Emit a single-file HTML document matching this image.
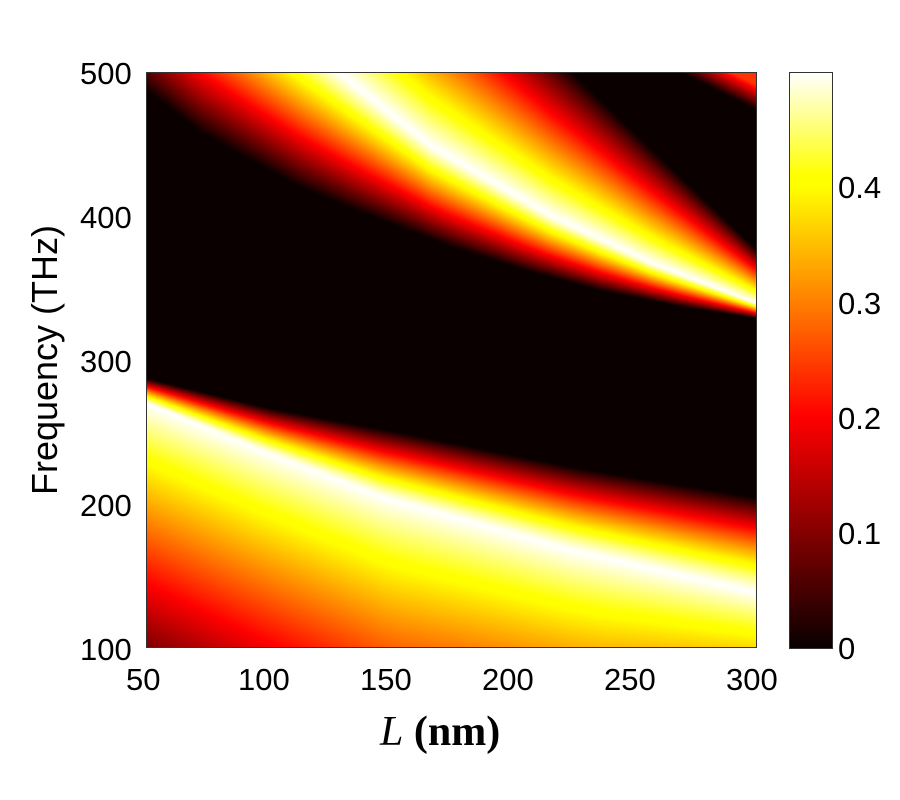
<!DOCTYPE html>
<html><head><meta charset="utf-8"><style>
html,body{margin:0;padding:0;background:#fff;width:900px;height:800px;overflow:hidden}
#w{position:relative;width:900px;height:800px;font-family:"Liberation Sans",Arial,sans-serif;color:#000}
canvas{position:absolute}
.t{position:absolute;font-size:31px;line-height:1}
</style></head><body><div id="w">
<canvas id="c" width="610" height="576" style="left:146px;top:72px"></canvas>
<div style="position:absolute;left:146px;top:72px;width:611px;height:576px;border:1px solid #333;box-sizing:border-box"></div>
<canvas id="cb" width="42" height="576" style="left:790px;top:72px"></canvas>
<div style="position:absolute;left:789px;top:72px;width:44px;height:577px;border:1px solid #333;box-sizing:border-box"></div>
<div class="t" style="left:80px;top:58px">500</div>
<div class="t" style="left:80px;top:202px">400</div>
<div class="t" style="left:80px;top:346px">300</div>
<div class="t" style="left:80px;top:490px">200</div>
<div class="t" style="left:80px;top:634px">100</div>
<div class="t" style="left:126px;top:664px">50</div>
<div class="t" style="left:238px;top:664px">100</div>
<div class="t" style="left:360px;top:664px">150</div>
<div class="t" style="left:482px;top:664px">200</div>
<div class="t" style="left:604px;top:664px">250</div>
<div class="t" style="left:726px;top:664px">300</div>
<div class="t" style="left:838px;top:172px">0.4</div>
<div class="t" style="left:838px;top:288px">0.3</div>
<div class="t" style="left:838px;top:403px">0.2</div>
<div class="t" style="left:838px;top:518px">0.1</div>
<div class="t" style="left:838px;top:633px">0</div>
<div style="position:absolute;left:45px;top:360px;transform:translate(-50%,-50%) rotate(-90deg);font-size:36px;white-space:nowrap">Frequency (THz)</div>
<div style="position:absolute;left:380px;top:708px;font-family:'Liberation Serif',serif;font-size:42px;white-space:nowrap"><i>L</i> <b>(nm)</b></div>
</div>
<script>
function interp(p,x){if(x<=p[0][0])return p[0][1]+(x-p[0][0])*(p[1][1]-p[0][1])/(p[1][0]-p[0][0]);
for(var i=1;i<p.length;i++){if(x<=p[i][0]){var a=p[i-1],b=p[i];return a[1]+(x-a[0])*(b[1]-a[1])/(b[0]-a[0]);}}
var a=p[p.length-2],b=p[p.length-1];return b[1]+(x-b[0])*(b[1]-a[1])/(b[0]-a[0]);}
function cl(v){return v<0?0:v>1?1:v}
function hot(v){var t=v/0.5;return [10+245*cl(t/0.4),255*cl((t-0.4)/0.4),255*cl((t-0.82)/0.18)];}
var uc=[[146,-82],[340,73],[430,145],[550,215],[650,262],[757,303]];
var ul=[[146,90],[200,132],[250,160],[300,187],[350,208],[450,246],[525,270],[600,290],[680,306],[757,318]];
var uu=[[146,-340],[573,73],[757,250]];
var lc=[[146,403],[260,450],[382,497],[570,550],[757,593]];
var lu=[[146,378],[270,408],[404,433],[580,468],[757,497]];
var DD=[[146,300],[400,330],[600,290],[757,210]];
var c=document.getElementById('c'),x=c.getContext('2d'),W=610,H=576,im=x.createImageData(W,H);
for(var i=0;i<W;i++){var X=146+i;
var c1=interp(uc,X),l1=interp(ul,X),u1=interp(uu,X),c2=interp(lc,X),u2=interp(lu,X);
var D=interp(DD,X);
for(var j=0;j<H;j++){var Y=72+j,v=0;
if(Y>=c1&&Y<l1){var d=(Y-c1)/(l1-c1);v=Math.max(v,0.5*(1-Math.pow(d,1.2)));}
else if(Y<c1&&Y>u1){var d=(c1-Y)/(c1-u1);v=Math.max(v,0.5*(1-Math.pow(d,1.1)));}
if(Y<c2&&Y>u2){var d=(c2-Y)/(c2-u2);v=Math.max(v,0.5*(1-Math.pow(d,1.3)));}
else if(Y>=c2){var d=(Y-c2)/D;v=Math.max(v,0.5*(1-d));}
var ly=73+(X-683)*37/74;if(Y<ly&&X>683){v=Math.max(v,0.24*cl((ly-Y)/25));}
var col=hot(v),k=(j*W+i)*4;im.data[k]=col[0];im.data[k+1]=col[1];im.data[k+2]=col[2];im.data[k+3]=255;}}
x.putImageData(im,0,0);
var cb=document.getElementById('cb'),y=cb.getContext('2d');
for(var j=0;j<576;j++){var col=hot(0.5*(1-j/575));y.fillStyle='rgb('+(col[0]|0)+','+(col[1]|0)+','+(col[2]|0)+')';y.fillRect(0,j,42,1);}
</script>
</body></html>
